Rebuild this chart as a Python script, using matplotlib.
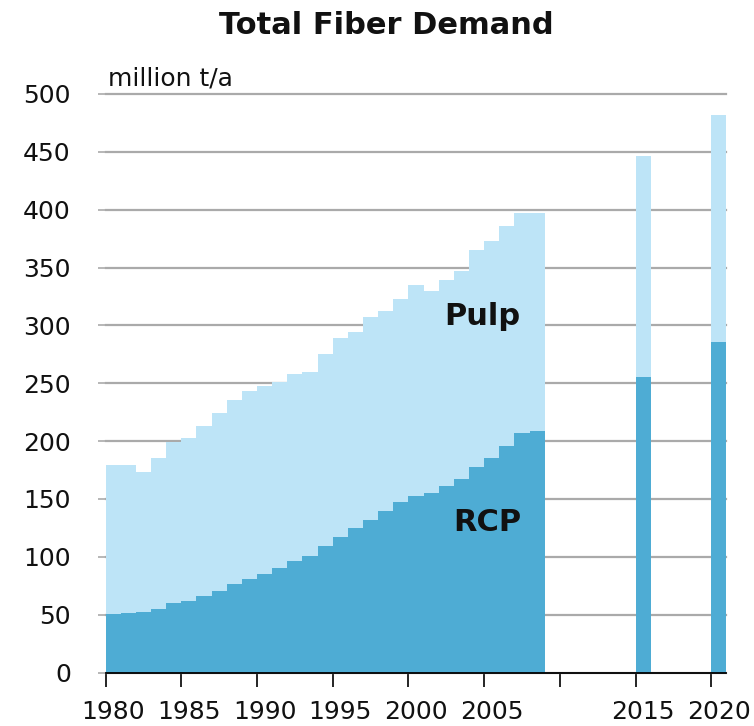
import numpy as np
import matplotlib
matplotlib.use("Agg")
import matplotlib.pyplot as plt

# data (million t/a)
years = [1980, 1981, 1982, 1983, 1984, 1985, 1986, 1987, 1988, 1989,
         1990, 1991, 1992, 1993, 1994, 1995, 1996, 1997, 1998, 1999,
         2000, 2001, 2002, 2003, 2004, 2005, 2006, 2007, 2008,
         2015, 2020]
rcp = [50.6, 51.8, 52.1, 55.2, 59.8, 61.6, 66.2, 70.8, 76.3, 80.6,
       84.9, 90.6, 96.1, 100.7, 109.4, 117.0, 124.6, 131.5, 139.6, 147.4,
       152.5, 154.9, 161.3, 167.0, 177.9, 185.0, 196.0, 206.7, 209.0,
       255.6, 285.3]
pulp = [128.7, 127.2, 121.5, 130.4, 139.4, 140.8, 147.1, 153.7, 159.2, 162.9,
        162.9, 160.4, 161.6, 159.3, 166.1, 171.8, 169.4, 175.9, 173.0, 175.3,
        182.3, 175.0, 177.8, 180.2, 187.1, 187.5, 190.0, 190.6, 188.3,
        190.4, 196.1]
tick_years = [1980, 1985, 1990, 1995, 2000, 2005, 2015, 2020]
y_ticks = [0, 50, 100, 150, 200, 250, 300, 350, 400, 450, 500]

col_rcp = "#4eacd4"
col_pulp = "#bde4f7"

plt.rcParams["font.family"] = "DejaVu Sans"

fig = plt.figure(figsize=(7.54, 7.26), dpi=100)
ax = fig.add_axes([0.140, 0.0736, 0.8234, 0.797])

x = np.array(years)
ax.bar(x, rcp, width=1.0, color=col_rcp, linewidth=0, zorder=2)
ax.bar(x, pulp, width=1.0, bottom=rcp, color=col_pulp, linewidth=0, zorder=2)

ax.set_xlim(1979.5, 2020.5)
ax.set_ylim(0, 500)

# y axis: grey gridlines, short grey ticks, no spine
ax.set_yticks(y_ticks)
ax.set_yticklabels([str(v) for v in y_ticks])
ax.yaxis.grid(True, color="#aaaaaa", linewidth=1.6, zorder=0)
ax.set_axisbelow(True)
for gl in ax.get_ygridlines():
    gl.set_clip_on(False)
ax.tick_params(axis="y", length=6, width=1.2, color="#aaaaaa", pad=19,
               labelsize=18, labelcolor="#111111")

# x axis: ticks on category boundaries, labels centred on the categories
ax.set_xticks(np.arange(1979.5, 2021, 5))
ax.set_xticklabels([])
ax.tick_params(axis="x", which="major", length=10, width=1.2, color="black")
ax.set_xticks(tick_years, minor=True)
ax.set_xticklabels([str(v) for v in tick_years], minor=True)
ax.tick_params(axis="x", which="minor", length=0, pad=20, labelsize=18,
               labelcolor="#111111")

for s in ["top", "right", "left"]:
    ax.spines[s].set_visible(False)
ax.spines["bottom"].set_color("black")
ax.spines["bottom"].set_linewidth(1.3)
ax.spines["bottom"].set_zorder(3)

ax.text(2004.4, 308, "Pulp", ha="center", va="center", fontsize=22,
        fontweight="bold", color="#111111", zorder=4)
ax.text(2004.7, 130, "RCP", ha="center", va="center", fontsize=22,
        fontweight="bold", color="#111111", zorder=4)

fig.text(386 / 754, 1 - 25 / 726, "Total Fiber Demand", ha="center",
         va="center", fontsize=22, fontweight="bold", color="#111111")
fig.text(108 / 754, 1 - 78 / 726, "million t/a", ha="left", va="center",
         fontsize=18, color="#111111")

fig.savefig("out.png", dpi=100)
